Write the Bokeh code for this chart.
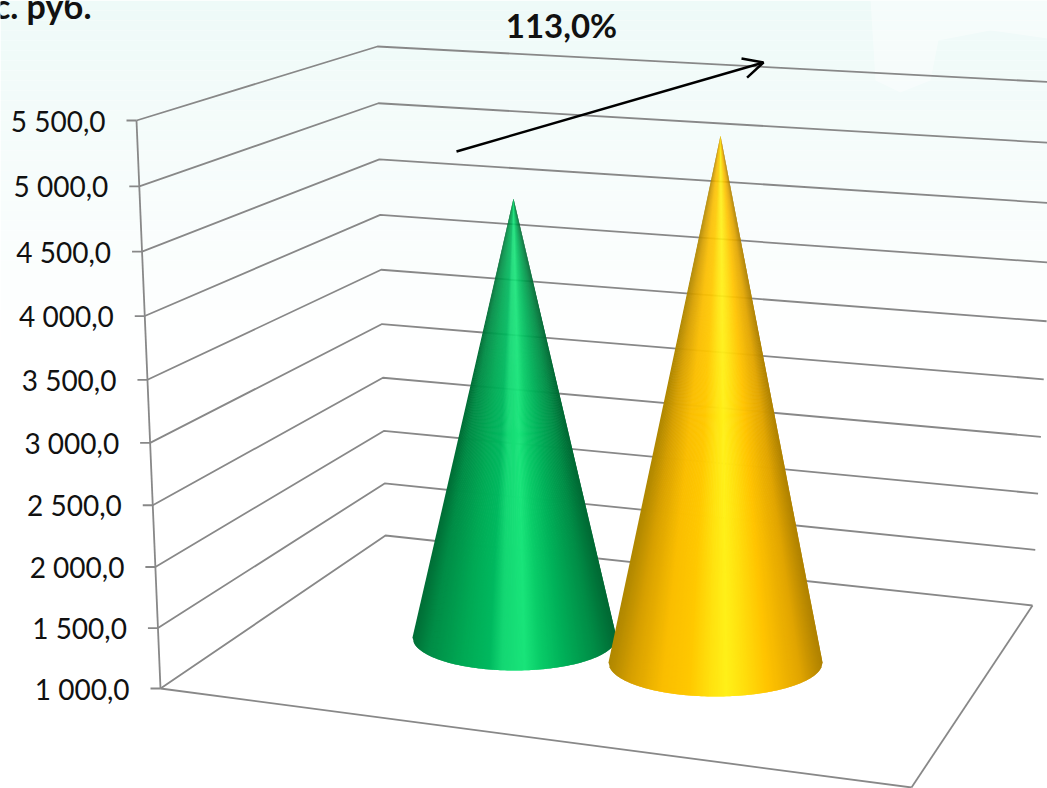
import math
from bokeh.plotting import figure
from bokeh.embed import file_html
from bokeh.resources import INLINE
from bokeh.models import Arrow, OpenHead, Range1d
from bokeh.core.properties import value

# data
tick_values = [1000, 1500, 2000, 2500, 3000, 3500, 4000, 4500, 5000, 5500]
tick_labels = ["1 000,0", "1 500,0", "2 000,0", "2 500,0", "3 000,0",
               "3 500,0", "4 000,0", "4 500,0", "5 000,0", "5 500,0"]
cone_values = [4740, 5356]
unit_label = "с. руб."
growth_label = "113,0%"

# projected frame (pixels on the slide)
W, H = 1047, 788
V0, V1 = 1000, 5500
PERSP = 1.05
LEFT = ((160, 688), (136, 120))
BACK = ((385, 535), (377, 46))
RIGHT = ((1032, 605), (1058, 82))
FLOOR_FRONT = (911, 787)
GRID = "#888888"

# cones: bottom centre, half-axes, apex x, height scale (px per value), shading
green_stops = [(-1, (0, 110, 55)), (-.85, (0, 140, 70)), (-.5, (0, 170, 85)), (-.25, (0, 185, 95)),
               (-.12, (20, 215, 115)), (.1, (25, 228, 122)), (.25, (10, 205, 105)), (.5, (0, 175, 88)),
               (.8, (0, 140, 70)), (1, (0, 105, 52))]
yellow_stops = [(-1, (175, 135, 0)), (-.8, (215, 160, 0)), (-.5, (250, 190, 0)), (-.25, (255, 200, 0)),
                (-.05, (255, 225, 15)), (.1, (255, 240, 25)), (.25, (255, 225, 15)), (.5, (255, 195, 0)),
                (.8, (225, 165, 0)), (1, (175, 130, 0))]
cones = [dict(cx=514, cy=637, a=102, b=33, ax=513, k=0.1174, stops=green_stops),
         dict(cx=715, cy=662, a=107, b=34, ax=720, k=0.1209, stops=yellow_stops)]


def along(edge, v):
    t = (v - V0) / (V1 - V0)
    s = t / (t + PERSP * (1 - t))
    (x0, y0), (x1, y1) = edge
    return x0 + (x1 - x0) * s, y0 + (y1 - y0) * s


def shade(stops, t):
    for (t0, c0), (t1, c1) in zip(stops, stops[1:]):
        if t <= t1:
            f = (t - t0) / (t1 - t0)
            return "#%02x%02x%02x" % tuple(round(a + (b - a) * f) for a, b in zip(c0, c1))
    return "#%02x%02x%02x" % stops[-1][1]


p = figure(width=W, height=H, output_backend="svg", toolbar_location=None,
           x_range=Range1d(0, W), y_range=Range1d(H, 0), min_border=0,
           outline_line_color=None, background_fill_color="white",
           border_fill_color="white")
p.axis.visible = False
p.grid.visible = False

# slide background
n = 40
tops = [i * 10 for i in range(n)]
cols = []
for i in range(n):
    f = min(1, i / 34)
    cols.append("#%02x%02x%02x" % (round(238 + 17 * f), round(250 + 5 * f), round(248 + 7 * f)))
p.quad(left=0, right=W, top=tops, bottom=[t + 10 for t in tops], fill_color=cols, line_color=None)
p.patch([870, 1047, 1047, 990, 938, 930, 900, 875], [0, 0, 38, 30, 40, 80, 92, 80],
        fill_color="white", fill_alpha=0.4, line_color=None)

# grid lines on walls, ticks and labels
for v, lab in zip(tick_values, tick_labels):
    l, b, r = along(LEFT, v), along(BACK, v), along(RIGHT, v)
    p.line([l[0], b[0], r[0]], [l[1], b[1], r[1]], line_color=GRID, line_width=1.8)
    p.line([l[0] - 10, l[0]], [l[1], l[1]], line_color=GRID, line_width=1.8)
    p.text([l[0] - 31], [l[1]], text=[lab], text_align="right", text_baseline="middle",
           text_font=value("Lato"), text_font_size="28px", text_color="#111111")

# axis and floor
p.line([LEFT[0][0], LEFT[1][0]], [LEFT[0][1], LEFT[1][1]], line_color=GRID, line_width=1.8)
p.line([LEFT[0][0], FLOOR_FRONT[0]], [LEFT[0][1], FLOOR_FRONT[1]], line_color=GRID, line_width=1.8)
p.line([RIGHT[0][0], FLOOR_FRONT[0]], [RIGHT[0][1], FLOOR_FRONT[1]], line_color=GRID, line_width=1.8)

# cones: slices painted left to right, each overlapping the next
for c, v in zip(cones, cone_values):
    apex_y = c["cy"] - (v - V0) * c["k"]
    steps = 2 * c["a"]
    xs, ys, fc = [], [], []
    for i in range(steps):
        t0, t1 = -1 + 2 * i / steps, min(1, -1 + 2 * (i + 2) / steps)
        u0, u1 = math.sqrt(max(0, 1 - t0 * t0)), math.sqrt(max(0, 1 - t1 * t1))
        xs.append([c["ax"], c["cx"] + c["a"] * t0, c["cx"] + c["a"] * t1])
        ys.append([apex_y, c["cy"] + c["b"] * u0, c["cy"] + c["b"] * u1])
        fc.append(shade(c["stops"], t0 + 1 / steps))
    p.patches(xs, ys, fill_color=fc, line_color=None)

# growth arrow and labels
p.add_layout(Arrow(end=OpenHead(size=20, line_color="black", line_width=2.5),
                   x_start=456, y_start=151, x_end=763, y_end=62,
                   line_color="black", line_width=2.5))
p.text([561], [24], text=[growth_label], text_align="center", text_baseline="middle",
       text_font=value("Lato"), text_font_style="bold", text_font_size="33px", text_color="#111111")
p.text([91], [5], text=[unit_label], text_align="right", text_baseline="middle",
       text_font=value("Lato"), text_font_style="bold", text_font_size="34px", text_color="#111111")

open("out.html", "w").write(file_html(p, INLINE))
